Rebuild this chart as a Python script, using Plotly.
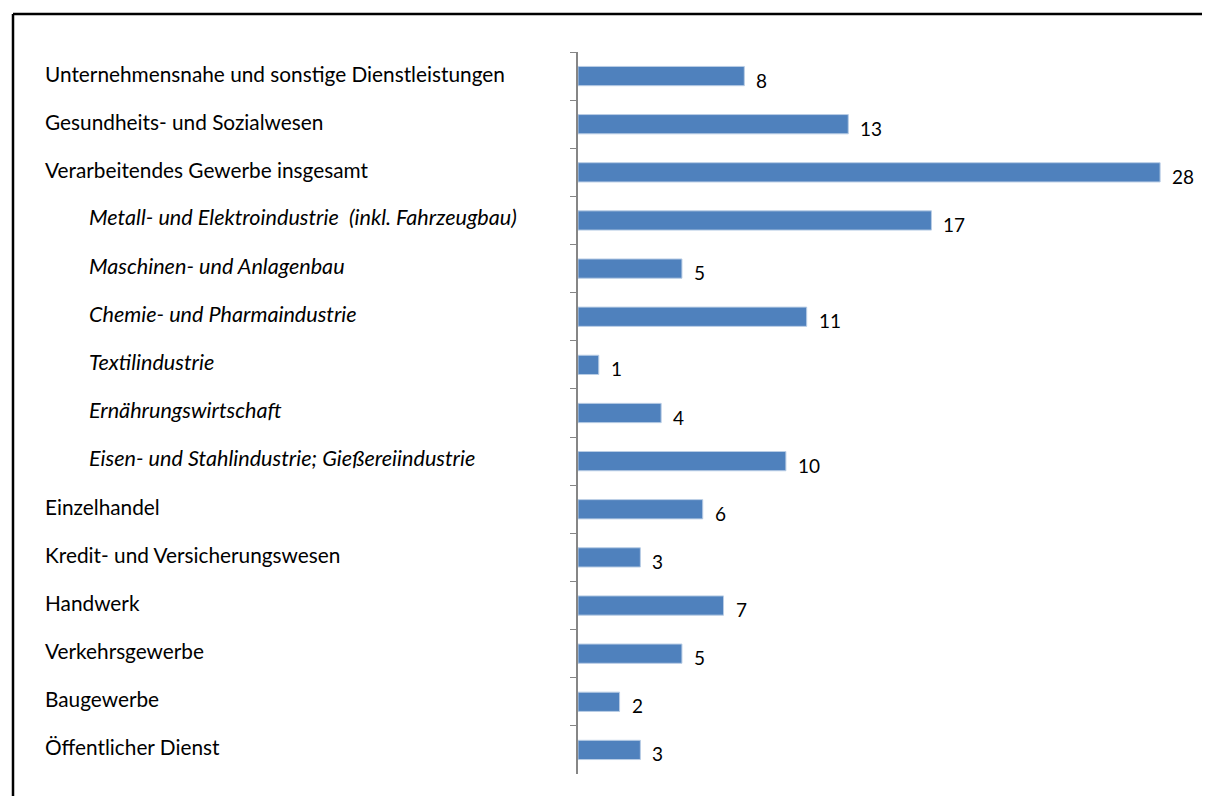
import plotly.graph_objects as go

categories = [
    "Unternehmensnahe und sonstige Dienstleistungen",
    "Gesundheits- und Sozialwesen",
    "Verarbeitendes Gewerbe insgesamt",
    "Metall- und Elektroindustrie  (inkl. Fahrzeugbau)",
    "Maschinen- und Anlagenbau",
    "Chemie- und Pharmaindustrie",
    "Textilindustrie",
    "Ernährungswirtschaft",
    "Eisen- und Stahlindustrie; Gießereiindustrie",
    "Einzelhandel",
    "Kredit- und Versicherungswesen",
    "Handwerk",
    "Verkehrsgewerbe",
    "Baugewerbe",
    "Öffentlicher Dienst",
]
values = [8, 13, 28, 17, 5, 11, 1, 4, 10, 6, 3, 7, 5, 2, 3]
italic = [False, False, False, True, True, True, True, True, True,
          False, False, False, False, False, False]

# page body has an 8px margin; figure fills the rest of the window
OFF = 8
W, H = 1202, 788
L, R, T, B = 570, 8, 44, 22
PW = W - L - R
PH = H - T - B
XMAX = PW / 20.79  # ~20.8 px per unit

def px(p):  # screen pixel -> paper x
    return (p - OFF - L) / PW

def py(p):  # screen pixel -> paper y
    return (H - B - (p - OFF)) / PH

font_family = "Lato, 'Open Sans', sans-serif"

fig = go.Figure()
fig.add_trace(go.Bar(
    y=categories, x=values, orientation="h",
    marker=dict(color="#4F81BD", line=dict(color="#B9CDE5", width=1)),
    hoverinfo="x+y",
))

annotations = []
for c, v, it in zip(categories, values, italic):
    annotations.append(dict(
        x=px(87 if it else 43), xref="paper", y=c, yref="y",
        text=("<i>%s</i>" % c) if it else c,
        showarrow=False, xanchor="left", yanchor="middle", yshift=3,
        font=dict(family=font_family, size=21.6 if it else 20.8,
                  color="#000000"),
    ))
    annotations.append(dict(
        x=v, xref="x", y=c, yref="y", text=str(v),
        showarrow=False, xanchor="left", yanchor="middle",
        xshift=10, yshift=-4,
        font=dict(family=font_family, size=19, color="#000000"),
    ))

border = dict(color="black", width=2.5)
fig.update_layout(
    width=W, height=H,
    margin=dict(l=L, r=R, t=T, b=B, pad=0),
    paper_bgcolor="white", plot_bgcolor="white",
    showlegend=False,
    bargap=0.6,
    xaxis=dict(range=[0, XMAX], showgrid=False, zeroline=False,
               showticklabels=False, showline=False, ticks=""),
    yaxis=dict(categoryorder="array", categoryarray=categories,
               autorange="reversed", showticklabels=False,
               showline=True, linecolor="#868686", linewidth=2,
               ticks="outside", ticklen=6, tickcolor="#868686",
               tickwidth=1, tickson="boundaries", showgrid=False),
    annotations=annotations,
    shapes=[
        dict(type="line", xref="paper", yref="paper",
             x0=px(13), x1=px(1209), y0=py(14), y1=py(14), line=border),
        dict(type="line", xref="paper", yref="paper",
             x0=px(13), x1=px(13), y0=py(14), y1=py(900), line=border),
    ],
)

fig.write_html("out.html")
